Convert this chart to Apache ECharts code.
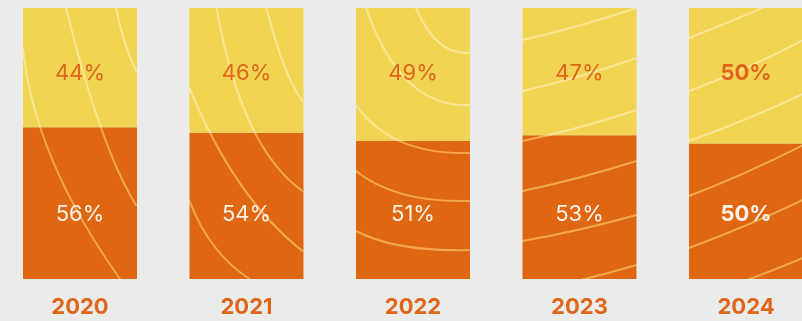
<!DOCTYPE html>
<html>
<head>
<meta charset="utf-8">
<script src="https://cdn.jsdelivr.net/npm/echarts@6/dist/echarts.min.js"></script>
<style>
  html, body { margin: 0; padding: 0; background: #ebebea; }
  #chart { width: 802px; height: 321px; }
</style>
</head>
<body>
<div id="chart"></div>
<script>
// Share split per year (percent)
const years = ['2020', '2021', '2022', '2023', '2024'];
const lowerShare = [56, 54, 51, 53, 50];   // orange, bottom segment
const upperShare = [44, 46, 49, 47, 50];   // yellow, top segment

const ORANGE = '#df6712';
const YELLOW = '#f1d452';
const TEXT_ORANGE = '#df661a';
const FONT = 'Inter, "Open Sans", sans-serif';
const BAR_WIDTH = 114;

// Decorative contour strokes inside each bar, as quadratic curves
// [x0, y0, cpx, cpy, x1, y1] in pixels relative to the bar's top-left corner
// (bar box is BAR_WIDTH wide and the full 0–100 span tall).
const barStrokes = [
  [ [0, 40, 11, 150, 97, 271], [43, 0, 78, 141, 113, 197], [93, 0, 100, 35, 113, 63] ],
  [ [27, 0, 52, 140, 113, 183], [77, 0, 95, 70, 113, 93], [0, 80, 45, 190, 113, 243], [0, 193, 20, 245, 60, 271] ],
  [ [60, 0, 80, 47, 113, 45], [10, 0, 45, 100, 113, 97], [0, 97, 35, 147, 113, 145], [0, 163, 40, 195, 113, 193], [0, 223, 40, 244, 113, 242] ],
  [ [0, 32, 57, 19, 114, 0], [0, 83, 57, 70, 114, 50], [0, 133, 57, 121, 114, 102], [0, 183, 57, 171, 114, 153], [0, 233, 57, 223, 114, 207], [0, 284, 57, 274, 114, 257] ],
  [ [0, 30, 57, 8, 114, -18], [0, 83, 57, 62, 114, 32], [0, 133, 57, 113, 114, 86], [0, 188, 57, 166, 114, 137], [0, 240, 57, 219, 114, 192], [0, 292, 57, 274, 114, 250] ]
];

const chart = echarts.init(document.getElementById('chart'), null, { renderer: 'canvas' });

function labelWeight(i) {
  return i === years.length - 1 ? 'bold' : 'normal';
}

chart.setOption({
  backgroundColor: '#ebebea',
  animation: false,
  grid: {
    left: -3.25, right: -27.25, top: 8, bottom: 42,
    containLabel: false,
    outerBoundsMode: 'none'
  },
  xAxis: {
    type: 'category',
    data: years,
    axisLine: { show: false },
    axisTick: { show: false },
    axisLabel: {
      color: TEXT_ORANGE,
      fontFamily: FONT,
      fontWeight: 'bold',
      fontSize: 22,
      margin: 17
    }
  },
  yAxis: {
    type: 'value',
    min: 0,
    max: 100,
    show: false
  },
  series: [
    {
      name: 'lower',
      type: 'bar',
      stack: 'total',
      barWidth: BAR_WIDTH,
      data: lowerShare.map((v, i) => ({
        value: v,
        label: { fontWeight: labelWeight(i) }
      })),
      itemStyle: { color: ORANGE },
      label: {
        show: true,
        position: 'insideBottom',
        distance: 54,
        formatter: '{c}%',
        color: '#fbf3ea',
        fontFamily: FONT,
        fontSize: 22
      }
    },
    {
      name: 'upper',
      type: 'bar',
      stack: 'total',
      barWidth: BAR_WIDTH,
      data: upperShare.map((v, i) => ({
        value: v,
        label: { fontWeight: labelWeight(i) }
      })),
      itemStyle: { color: YELLOW },
      label: {
        show: true,
        position: 'insideTop',
        distance: 54,
        formatter: '{c}%',
        color: TEXT_ORANGE,
        fontFamily: FONT,
        fontSize: 22
      }
    }
  ]
});

// Build a fill texture: base colour plus the contour strokes of every bar,
// positioned from the axes so the strokes sit inside their bars.
function buildTexture(base, strokeColor) {
  const w = chart.getWidth();
  const h = chart.getHeight();
  const cv = document.createElement('canvas');
  cv.width = w;
  cv.height = h;
  const ctx = cv.getContext('2d');
  ctx.fillStyle = base;
  ctx.fillRect(0, 0, w, h);
  ctx.strokeStyle = strokeColor;
  ctx.lineWidth = 2;
  ctx.lineCap = 'round';
  years.forEach((yr, i) => {
    const top = chart.convertToPixel({ gridIndex: 0 }, [yr, 100]);
    const left = top[0] - BAR_WIDTH / 2;
    const y0 = top[1];
    barStrokes[i].forEach(c => {
      ctx.beginPath();
      ctx.moveTo(left + c[0], y0 + c[1]);
      ctx.quadraticCurveTo(left + c[2], y0 + c[3], left + c[4], y0 + c[5]);
      ctx.stroke();
    });
  });
  return cv;
}

chart.setOption({
  series: [
    { itemStyle: { color: { image: buildTexture(ORANGE, 'rgba(246,184,92,0.8)'), repeat: 'no-repeat' } } },
    { itemStyle: { color: { image: buildTexture(YELLOW, 'rgba(252,244,200,0.6)'), repeat: 'no-repeat' } } }
  ]
});
</script>
</body>
</html>
